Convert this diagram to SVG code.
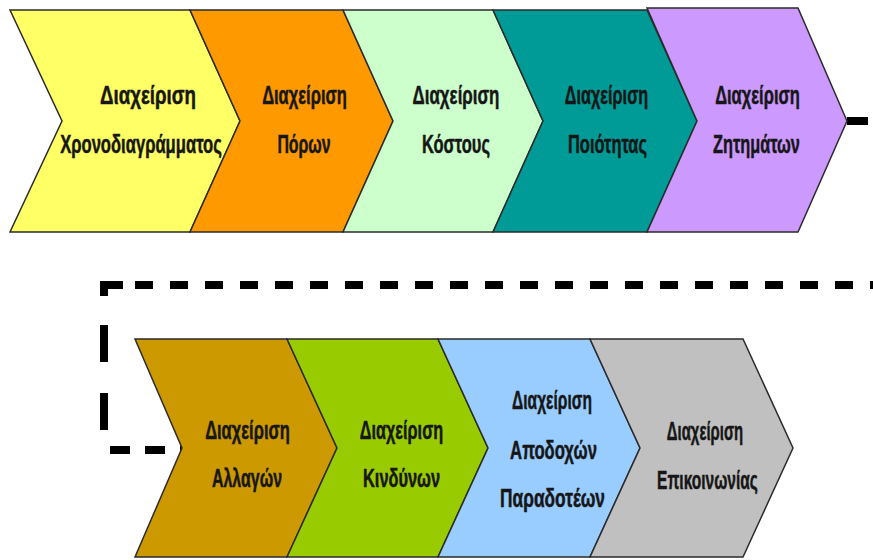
<svg xmlns="http://www.w3.org/2000/svg" width="873" height="560" viewBox="0 0 873 560">
<style>
.chev{stroke:#2b2b2b;stroke-width:1.5;stroke-linejoin:miter}
.lbl{font-family:"Liberation Sans",Arial,sans-serif;font-weight:bold;font-size:25px;fill:#161616;stroke:#161616;stroke-width:0.5;text-anchor:middle}
.dash{fill:none;stroke:#000;stroke-width:8}
</style>
<rect width="873" height="560" fill="#fff"/>
<g id="connectors">
<path class="dash" d="M847,121 H900" stroke-dasharray="21 14"/>
<path class="dash" d="M104,296 V285 H123" stroke-linejoin="miter"/>
<path class="dash" d="M135,285 H873" stroke-dasharray="18 17"/>
<path class="dash" d="M104,325 V432" stroke-dasharray="37 31"/>
<path class="dash" d="M110,450 H187" stroke-dasharray="20 15"/>
</g>
<g id="n1">
<path class="chev" fill="#FFFF66" d="M10,10 H190 L240,121 L190,232 H10 L62,121 Z"/>
<text class="lbl" transform="translate(148,104) scale(0.7,1)" textLength="137" lengthAdjust="spacingAndGlyphs">Διαχείριση</text>
<text class="lbl" transform="translate(141,153) scale(0.7,1)" textLength="231" lengthAdjust="spacingAndGlyphs">Χρονοδιαγράμματος</text>
</g>
<g id="n2">
<path class="chev" fill="#FF9900" d="M190,10 H343 L393,121 L343,232 H190 L240,121 Z"/>
<text class="lbl" transform="translate(304.5,104) scale(0.7,1)" textLength="121" lengthAdjust="spacingAndGlyphs">Διαχείριση</text>
<text class="lbl" transform="translate(304,153) scale(0.7,1)" textLength="76" lengthAdjust="spacingAndGlyphs">Πόρων</text>
</g>
<g id="n3">
<path class="chev" fill="#CCFFCC" d="M343,10 H493 L543,121 L493,232 H343 L393,121 Z"/>
<text class="lbl" transform="translate(456,104) scale(0.7,1)" textLength="124" lengthAdjust="spacingAndGlyphs">Διαχείριση</text>
<text class="lbl" transform="translate(456,153) scale(0.7,1)" textLength="97" lengthAdjust="spacingAndGlyphs">Κόστους</text>
</g>
<g id="n4">
<path class="chev" fill="#009B96" d="M493,10 H647 L697,121 L647,232 H493 L543,121 Z"/>
<text class="lbl" transform="translate(606.5,104) scale(0.7,1)" textLength="119" lengthAdjust="spacingAndGlyphs">Διαχείριση</text>
<text class="lbl" transform="translate(607.5,153) scale(0.7,1)" textLength="113" lengthAdjust="spacingAndGlyphs">Ποιότητας</text>
</g>
<g id="n5">
<path class="chev" fill="#CC99FF" d="M647,8 H798 L847,121 L798,232 H647 L697,121 Z"/>
<text class="lbl" transform="translate(757.5,104) scale(0.7,1)" textLength="121" lengthAdjust="spacingAndGlyphs">Διαχείριση</text>
<text class="lbl" transform="translate(756.5,153) scale(0.7,1)" textLength="124" lengthAdjust="spacingAndGlyphs">Ζητημάτων</text>
</g>
<g id="n6">
<path class="chev" fill="#CC9900" d="M135,339 H287 L337,448 L287,557 H135 L182,448 Z"/>
<text class="lbl" transform="translate(247.5,439) scale(0.7,1)" textLength="121" lengthAdjust="spacingAndGlyphs">Διαχείριση</text>
<text class="lbl" transform="translate(247,487) scale(0.7,1)" textLength="100" lengthAdjust="spacingAndGlyphs">Αλλαγών</text>
</g>
<g id="n7">
<path class="chev" fill="#99CC00" d="M287,339 H438 L488,448 L438,557 H287 L337,448 Z"/>
<text class="lbl" transform="translate(401.5,439) scale(0.7,1)" textLength="119" lengthAdjust="spacingAndGlyphs">Διαχείριση</text>
<text class="lbl" transform="translate(401.5,487) scale(0.7,1)" textLength="110" lengthAdjust="spacingAndGlyphs">Κινδύνων</text>
</g>
<g id="n8">
<path class="chev" fill="#99CCFF" d="M438,339 H590 L640,448 L590,557 H438 L488,448 Z"/>
<text class="lbl" transform="translate(552,409) scale(0.7,1)" textLength="114" lengthAdjust="spacingAndGlyphs">Διαχείριση</text>
<text class="lbl" transform="translate(553.5,459) scale(0.7,1)" textLength="124" lengthAdjust="spacingAndGlyphs">Αποδοχών</text>
<text class="lbl" transform="translate(552.5,507) scale(0.7,1)" textLength="150" lengthAdjust="spacingAndGlyphs">Παραδοτέων</text>
</g>
<g id="n9">
<path class="chev" fill="#C0C0C0" d="M590,339 H743 L793,448 L743,557 H590 L640,448 Z"/>
<text class="lbl" transform="translate(705,440) scale(0.7,1)" textLength="109" lengthAdjust="spacingAndGlyphs">Διαχείριση</text>
<text class="lbl" transform="translate(707.5,489) scale(0.7,1)" textLength="144" lengthAdjust="spacingAndGlyphs">Επικοινωνίας</text>
</g>
</svg>
